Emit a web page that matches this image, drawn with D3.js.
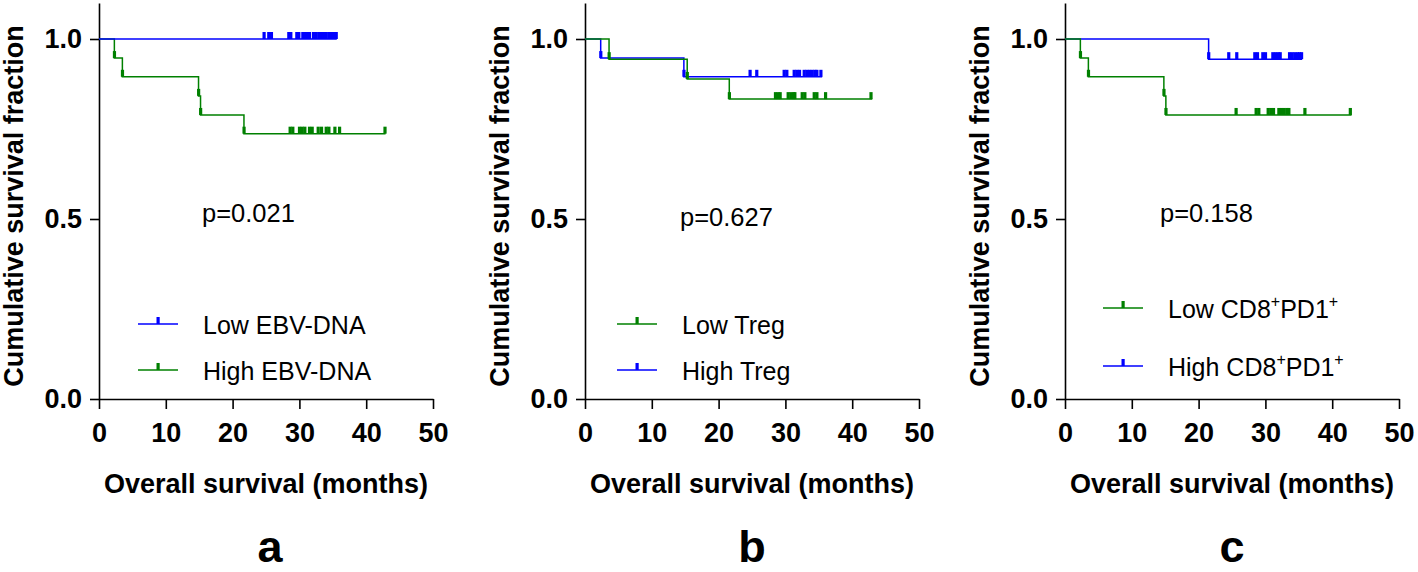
<!DOCTYPE html>
<html>
<head>
<meta charset="utf-8">
<script src="https://cdnjs.cloudflare.com/ajax/libs/d3/7.8.5/d3.min.js"></script>
<style>
  body { margin: 0; background: #fff; }
  text { font-family: "Liberation Sans", Arial, sans-serif; }
</style>
</head>
<body>
<script>

// axis ticks shared by the three panels
var xTicks = [0, 10, 20, 30, 40, 50];
var yTicks = [0, 0.5, 1.0];

var panelLetters = ["a", "b", "c"];
var pValues = ["p=0.021", "p=0.627", "p=0.158"];

// panel a : EBV-DNA
var aLabels = ["Low EBV-DNA", "High EBV-DNA"];
var aLowEvents = [];
var aLowSurv = [];
var aLowCensor = [24.7, 25.4, 25.8, 28.4, 28.7, 29.6, 29.9, 30.5, 30.9, 31.2, 31.5, 32.1, 32.5, 32.9, 33.2, 33.6, 34.0, 34.4, 34.8, 35.2, 35.5];
var aLowEnd = 35.6;
var aHighEvents = [2.3, 3.5, 14.9, 15.2, 21.7];
var aHighSurv = [0.947, 0.895, 0.842, 0.789, 0.737];
var aHighCensor = [28.6, 29.0, 30.0, 30.4, 30.8, 31.5, 31.9, 32.8, 33.3, 34.0, 34.4, 35.3, 36.0, 42.8];
var aHighEnd = 42.9;

// panel b : Treg
var bLabels = ["Low Treg", "High Treg"];
var bLowEvents = [3.6, 15.3, 21.6];
var bLowSurv = [0.944, 0.889, 0.833];
var bLowCensor = [28.5, 28.9, 29.2, 30.4, 30.8, 31.2, 31.4, 32.5, 32.9, 34.3, 34.7, 36.0, 42.8];
var bLowEnd = 43.0;
var bHighEvents = [2.35, 14.8];
var bHighSurv = [0.947, 0.895];
var bHighCensor = [24.7, 25.7, 29.8, 30.2, 31.3, 31.7, 32.1, 32.8, 33.2, 33.6, 34.0, 34.4, 34.7, 35.3];
var bHighEnd = 35.5;

// panel c : CD8+PD1+
var cLabels = ["Low CD8+PD1+", "High CD8+PD1+"];
var cLowEvents = [2.3, 3.5, 14.8, 15.1];
var cLowSurv = [0.947, 0.895, 0.842, 0.789];
var cLowCensor = [25.6, 28.6, 29.0, 30.4, 30.8, 31.2, 32.0, 32.4, 32.8, 33.2, 33.5, 35.9, 42.7];
var cLowEnd = 42.9;
var cHighEvents = [21.5];
var cHighSurv = [0.944];
var cHighCensor = [24.5, 25.7, 28.4, 28.8, 29.6, 30.0, 31.1, 31.5, 31.9, 32.2, 33.6, 34.0, 34.4, 34.8, 35.1, 35.4];
var cHighEnd = 35.5;

var BLUE = "#0000ff", GREEN = "#008000";

// layout of each panel (origin of y axis, legend and p-value spots)
var panels = [
  { ox: 99,   letterX: 270, px: 202,  py: 222, legX: 138,  legY: [324, 370],
    series: [
      { label: aLabels[0], color: BLUE,  events: aLowEvents,  surv: aLowSurv,  censor: aLowCensor,  end: aLowEnd },
      { label: aLabels[1], color: GREEN, events: aHighEvents, surv: aHighSurv, censor: aHighCensor, end: aHighEnd }
    ] },
  { ox: 585,  letterX: 752, px: 680,  py: 226, legX: 617,  legY: [324, 370],
    series: [
      { label: bLabels[0], color: GREEN, events: bLowEvents,  surv: bLowSurv,  censor: bLowCensor,  end: bLowEnd },
      { label: bLabels[1], color: BLUE,  events: bHighEvents, surv: bHighSurv, censor: bHighCensor, end: bHighEnd }
    ] },
  { ox: 1065, letterX: 1232, px: 1160, py: 222, legX: 1103, legY: [308, 366],
    series: [
      { label: cLabels[0], color: GREEN, events: cLowEvents,  surv: cLowSurv,  censor: cLowCensor,  end: cLowEnd },
      { label: cLabels[1], color: BLUE,  events: cHighEvents, surv: cHighSurv, censor: cHighCensor, end: cHighEnd }
    ] }
];

var svg = d3.select("body").append("svg")
    .attr("width", 1418)
    .attr("height", 572);

var x = d3.scaleLinear().domain([0, 50]).range([0, 334]);
var y = d3.scaleLinear().domain([0, 1.1]).range([396, 0]);

var stepLine = d3.line()
    .x(function(d){ return x(d[0]); })
    .y(function(d){ return y(d[1]); })
    .curve(d3.curveStepAfter);

// survival value at time t (step function)
function survAt(s, t){
  var v = 1;
  for (var i = 0; i < s.events.length; i++) {
    if (s.events[i] <= t) v = s.surv[i];
  }
  return v;
}

// writes "CD8+PD1+" with the plus signs raised
function labelText(sel, str){
  var parts = str.split("+");
  var raised = false;
  parts.forEach(function(p, i){
    if (p.length) {
      var ts = sel.append("tspan").text(p);
      if (raised) { ts.attr("dy", 11); raised = false; }
    }
    if (i < parts.length - 1) {
      sel.append("tspan").attr("font-size", 16).attr("dy", -11).text("+");
      raised = true;
    }
  });
}

panels.forEach(function(p, pi){

  var g = svg.append("g").attr("transform", "translate(" + p.ox + ",3)");

  // axes
  var xa = g.append("g")
      .attr("transform", "translate(0,396)")
      .call(d3.axisBottom(x).tickValues(xTicks).tickSize(10).tickSizeOuter(0).tickPadding(14));
  var ya = g.append("g")
      .call(d3.axisLeft(y).tickValues(yTicks).tickSize(9).tickSizeOuter(0).tickPadding(8).tickFormat(d3.format(".1f")));

  [xa, ya].forEach(function(a){
    a.selectAll("path, line").attr("stroke", "#000").attr("stroke-width", 1.6);
    a.selectAll("text")
        .attr("fill", "#000")
        .attr("font-size", 27)
        .attr("font-weight", "bold")
        .style("font-family", "'Liberation Sans', Arial, sans-serif");
  });

  // axis titles
  g.append("text")
      .attr("transform", "translate(-76,203) rotate(-90)")
      .attr("text-anchor", "middle")
      .attr("font-size", 27)
      .attr("font-weight", "bold")
      .text("Cumulative survival fraction");

  g.append("text")
      .attr("x", 167)
      .attr("y", 490)
      .attr("text-anchor", "middle")
      .attr("font-size", 27)
      .attr("font-weight", "bold")
      .text("Overall survival (months)");

  // curves, first series on top
  p.series.slice().reverse().forEach(function(s){
    var pts = [[0, 1]];
    s.events.forEach(function(t, i){ pts.push([t, s.surv[i]]); });
    pts.push([s.end, survAt(s, s.end)]);

    g.append("path")
        .datum(pts)
        .attr("d", stepLine)
        .attr("fill", "none")
        .attr("stroke", s.color)
        .attr("stroke-width", 1.5);

    // tick marks at censored times and at drops
    var marks = s.censor.concat(s.events);
    g.selectAll(null)
        .data(marks)
        .enter()
        .append("rect")
        .attr("x", function(t){ return x(t) - 1.5; })
        .attr("y", function(t){ return y(survAt(s, t)) - 7; })
        .attr("width", 3.2)
        .attr("height", 7)
        .attr("fill", s.color);
  });

  // p value
  svg.append("text")
      .attr("x", p.px)
      .attr("y", p.py)
      .attr("font-size", 25.5)
      .text(pValues[pi]);

  // legend
  p.series.forEach(function(s, i){
    var ly = p.legY[i];
    svg.append("line")
        .attr("x1", p.legX).attr("x2", p.legX + 40)
        .attr("y1", ly).attr("y2", ly)
        .attr("stroke", s.color)
        .attr("stroke-width", 1.5);
    svg.append("rect")
        .attr("x", p.legX + 18.5).attr("y", ly - 7)
        .attr("width", 3.2).attr("height", 7)
        .attr("fill", s.color);
    var t = svg.append("text")
        .attr("x", p.legX + 65)
        .attr("y", ly + 10)
        .attr("font-size", 25);
    labelText(t, s.label);
  });

  // panel letter
  svg.append("text")
      .attr("x", p.letterX)
      .attr("y", 562)
      .attr("text-anchor", "middle")
      .attr("font-size", 45)
      .attr("font-weight", "bold")
      .text(panelLetters[pi]);
});

</script>
</body>
</html>
